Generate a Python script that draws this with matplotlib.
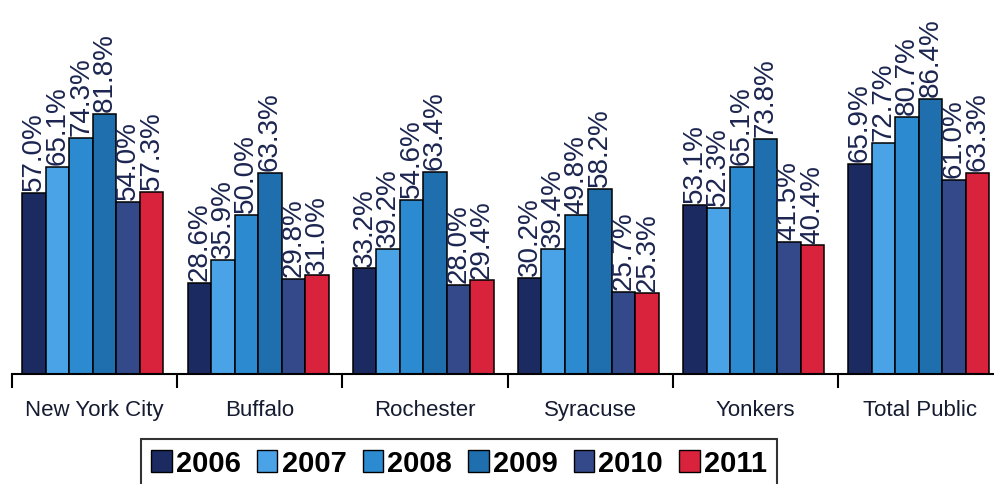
import numpy as np
import matplotlib.pyplot as plt
from matplotlib.patches import Patch

cities = ["New York City", "Buffalo", "Rochester", "Syracuse", "Yonkers", "Total Public"]
years = ["2006", "2007", "2008", "2009", "2010", "2011"]

# graduation rates per year, one value per city
rate_2006 = [57.0, 28.6, 33.2, 30.2, 53.1, 65.9]
rate_2007 = [65.1, 35.9, 39.2, 39.4, 52.3, 72.7]
rate_2008 = [74.3, 50.0, 54.6, 49.8, 65.1, 80.7]
rate_2009 = [81.8, 63.3, 63.4, 58.2, 73.8, 86.4]
rate_2010 = [54.0, 29.8, 28.0, 25.7, 41.5, 61.0]
rate_2011 = [57.3, 31.0, 29.4, 25.3, 40.4, 63.3]

series = [rate_2006, rate_2007, rate_2008, rate_2009, rate_2010, rate_2011]
colors = ["#1b2b62", "#4aa3e6", "#2b8ad0", "#1f6fae", "#33498a", "#d9223b"]
label_color = "#1b2550"

plt.rcParams['font.family'] = ['Liberation Sans', 'DejaVu Sans']

W, H = 994, 485
fig = plt.figure(figsize=(W / 100, H / 100), dpi=100)
fig.patch.set_facecolor("white")

base_px = 375
ax = fig.add_axes([12 / W, 1 - base_px / H, 991 / W, base_px / H])
px_per_unit = 275 / 86.4
ax.set_ylim(0, base_px / px_per_unit)
ax.set_xlim(-0.5, 5.5)

x = np.arange(len(cities))
bw = 0.1423
for i, vals in enumerate(series):
    pos = x + (i - 2.5) * bw - 0.01
    bars = ax.bar(pos, vals, width=bw, color=colors[i], edgecolor="black",
                  linewidth=1.1, zorder=2)
    for b, v in zip(bars, vals):
        ax.annotate("%.1f%%" % v, (b.get_x() + b.get_width() / 2, v),
                    xytext=(0, 2), textcoords="offset points",
                    rotation=90, ha="center", va="bottom",
                    fontsize=20, color=label_color, zorder=3)

for s in ["left", "right", "top"]:
    ax.spines[s].set_visible(False)
ax.spines["bottom"].set_linewidth(1.5)
ax.set_yticks([])

# group boundary ticks + category labels in between
ax.set_xticks(np.arange(-0.5, 6, 1))
ax.set_xticklabels([])
ax.tick_params(axis="x", which="major", length=10, width=1.5, direction="out")
ax.set_xticks(x, minor=True)
ax.set_xticklabels(cities, minor=True, fontsize=16, color="#151b30")
ax.tick_params(axis="x", which="minor", length=0, pad=18)

handles = [Patch(facecolor=c, edgecolor="black", linewidth=1.0) for c in colors]
leg = fig.legend(handles, years, loc="upper left", ncol=6,
                 bbox_to_anchor=(141 / W, 1 - 440 / H), borderaxespad=0,
                 frameon=True, fancybox=False, edgecolor="black",
                 prop={"weight": "bold", "size": 21},
                 handlelength=0.7, handleheight=0.75, handletextpad=0.15,
                 columnspacing=0.55, borderpad=0.35)
leg.get_frame().set_linewidth(1.5)

fig.savefig("out.png", dpi=100, facecolor="white")
